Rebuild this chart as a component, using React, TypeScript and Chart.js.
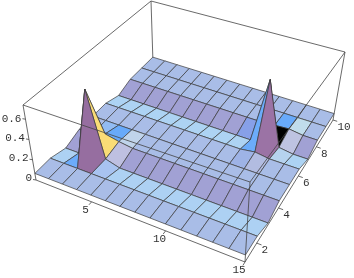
import React, { useEffect, useRef } from "react";
import { Chart, registerables } from "chart.js";

Chart.register(...registerables);

const xValues = [1, 2, 3, 4, 5, 6, 7, 8, 9, 10, 11, 12, 13, 14, 15];
const yValues = [1, 2, 3, 4, 5, 6, 7, 8, 9, 10];
// heights[rowIndex of y][column index of x]
const y1 = [.065, .065, .065, .065, .065, .065, .065, .065, .065, .065, .065, .065, .065, .065, .065];
const y2 = [.065, .065, .065, .065, .065, .065, .065, .065, .065, .065, .065, .065, .065, .065, .065];
const y3 = [.02, .02, .72, .06, .02, .02, .02, .02, .02, .02, .02, .02, .02, .02, .02];
const y4 = [.07, .07, .12, .09, .07, .07, .07, .07, .07, .07, .07, .07, .07, .07, .07];
const y5 = [.07, .07, .07, .07, .07, .07, .07, .07, .07, .07, .07, .07, .07, .07, .07];
const y6 = [.07, .07, .07, .07, .07, .07, .07, .07, .07, .07, .07, .09, .07, .07, .07];
const y7 = [.02, .02, .02, .02, .02, .02, .02, .02, .02, .02, .02, .7, .04, .02, .02];
const y8 = [.07, .07, .07, .07, .07, .07, .07, .07, .07, .07, .07, .08, .09, .07, .07];
const y9 = [.07, .07, .07, .07, .07, .07, .07, .07, .07, .07, .07, .07, .07, .07, .07];
const y10 = [.07, .07, .07, .07, .07, .07, .07, .07, .07, .07, .07, .07, .07, .07, .07];
const heights = [y1, y2, y3, y4, y5, y6, y7, y8, y9, y10];
const xTicks = [5, 10, 15];
const yTicks = [2, 4, 6, 8, 10];
const zTicks = [0, 0.2, 0.4, 0.6];
const zTickLabels = ["0", "0.2", "0.4", "0.6"];
const zMax = 0.74;

// Facets around the two spikes keep the colours seen in the picture ("column,row" of the facet).
const facetColours: Record<string, string> = {
  "1,1": "rgb(108,172,250)",
  "1,2": "rgb(108,148,236)",
  "2,1": "rgb(150,110,160)",
  "2,2": "rgb(250,220,118)",
  "3,1": "rgb(168,195,240)",
  "3,2": "rgb(190,192,225)",
  "3,3": "rgb(192,212,235)",
  "2,3": "rgb(104,170,250)",
  "9,6": "rgb(135,160,232)",
  "10,5": "rgb(108,172,250)",
  "10,6": "rgb(108,160,244)",
  "11,5": "rgb(155,115,165)",
  "11,6": "rgb(0,0,0)",
  "12,6": "rgb(190,195,225)",
  "12,7": "rgb(192,220,235)",
  "11,7": "rgb(104,170,250)",
};

type P = [number, number];
const bottomCorners: P[] = [[36, 180], [245, 262], [333, 120], [153, 63]];
const topCorners: P[] = [[23, 105], [250, 182], [345, 52], [151, 1]];

function homography(c: P[]) {
  const [[x0, y0], [x1, y1], [x2, y2], [x3, y3]] = c;
  const dx1 = x1 - x2, dx2 = x3 - x2, sx = x0 - x1 + x2 - x3;
  const dy1 = y1 - y2, dy2 = y3 - y2, sy = y0 - y1 + y2 - y3;
  const den = dx1 * dy2 - dx2 * dy1;
  const g = (sx * dy2 - dx2 * sy) / den;
  const h = (dx1 * sy - sx * dy1) / den;
  const a = x1 - x0 + g * x1, b = x3 - x0 + h * x3;
  const d = y1 - y0 + g * y1, e = y3 - y0 + h * y3;
  return (u: number, v: number): P => {
    const w = g * u + h * v + 1;
    return [(a * u + b * v + x0) / w, (d * u + e * v + y0) / w];
  };
}
const hBottom = homography(bottomCorners);
const hTop = homography(topCorners);
const U = (x: number) => (x - 1) / 14;
const V = (y: number) => (y - 1) / 9;
function proj(x: number, y: number, z: number) {
  const b = hBottom(U(x), V(y));
  const t = hTop(U(x), V(y));
  const k = z / zMax;
  return { x: b[0] + (t[0] - b[0]) * k, y: b[1] + (t[1] - b[1]) * k };
}

const az = (30 * Math.PI) / 180;
const el = (70 * Math.PI) / 180;
const xv = [Math.cos(az), Math.sin(az), 0];
const yv = [-Math.sin(az) * Math.sin(el), Math.cos(az) * Math.sin(el), Math.cos(el)];
const zv = [Math.sin(az) * Math.cos(el), -Math.cos(az) * Math.cos(el), Math.sin(el)];
const dot = (a: number[], b: number[]) => a[0] * b[0] + a[1] * b[1] + a[2] * b[2];

function shade(i: number, j: number) {
  const key = `${i},${j}`;
  if (facetColours[key]) return facetColours[key];
  const W = (z: number) => (z / zMax) * 0.28;
  const p = (a: number, b: number) => [U(xValues[a]), V(yValues[b]), W(heights[b][a])];
  const A = p(i, j), B = p(i + 1, j), C = p(i + 1, j + 1), D = p(i, j + 1);
  const d1 = [C[0] - A[0], C[1] - A[1], C[2] - A[2]];
  const d2 = [D[0] - B[0], D[1] - B[1], D[2] - B[2]];
  let n = [d1[1] * d2[2] - d1[2] * d2[1], d1[2] * d2[0] - d1[0] * d2[2], d1[0] * d2[1] - d1[1] * d2[0]];
  const len = Math.hypot(n[0], n[1], n[2]);
  n = n.map((c) => c / len);
  const nv = [dot(n, xv), dot(n, yv), dot(n, zv)];
  const r = Math.max(0, (nv[0] + nv[2]) / Math.SQRT2);
  const g = Math.max(0, (nv[0] + nv[1] + nv[2]) / Math.sqrt(3));
  const bl = Math.max(0, (nv[1] + nv[2]) / Math.SQRT2);
  const c8 = (c: number) => Math.round(Math.min(1, c) * 255);
  return `rgb(${c8(r)},${c8(g)},${c8(bl)})`;
}

function lineDs(pts: { x: number; y: number }[], color = "#444", width = 0.8) {
  return { data: pts, borderColor: color, borderWidth: width, pointRadius: 0, fill: false, tension: 0, clip: false };
}

function buildDatasets() {
  const ds: any[] = [];
  const c = (x: number, y: number, z: number) => proj(x, y, z);
  ds.push(lineDs([c(1, 10, 0), c(1, 10, zMax)]));
  ds.push(lineDs([c(1, 1, zMax), c(1, 10, zMax), c(15, 10, zMax)]));
  ds.push(lineDs([c(15, 10, 0), c(15, 10, zMax)]));
  for (let j = yValues.length - 2; j >= 0; j--) {
    for (let i = 0; i < xValues.length - 1; i++) {
      const pt = (a: number, b: number) => proj(xValues[a], yValues[b], heights[b][a]);
      const p0 = pt(i, j);
      ds.push({
        data: [p0, pt(i + 1, j), pt(i + 1, j + 1), pt(i, j + 1), p0],
        borderColor: "#3a3a3a",
        borderWidth: 0.7,
        backgroundColor: shade(i, j),
        fill: "shape",
        pointRadius: 0,
        tension: 0,
        clip: false,
      });
    }
  }
  ds.push(lineDs([c(1, 1, 0), c(1, 1, zMax), c(15, 1, zMax), c(15, 10, zMax)]));
  ds.push(lineDs([c(15, 1, 0), c(15, 1, zMax)]));
  ds.push(lineDs([c(1, 1, 0), c(15, 1, 0), c(15, 10, 0)]));
  for (const t of xTicks) {
    const a = proj(t, 1, 0), b = proj(t, 1.18, 0);
    ds.push(lineDs([a, { x: 2 * a.x - b.x, y: 2 * a.y - b.y }]));
  }
  for (const t of yTicks) {
    const a = proj(15, t, 0), b = proj(14.7, t, 0);
    ds.push(lineDs([a, { x: 2 * a.x - b.x, y: 2 * a.y - b.y }]));
  }
  for (const t of zTicks) {
    const a = proj(1, 1, t);
    ds.push(lineDs([a, { x: a.x - 3, y: a.y - 0.5 }]));
  }
  return ds.reverse();
}

const labelsPlugin = {
  id: "tickLabels",
  afterDraw(chart: any) {
    const ctx = chart.ctx;
    ctx.save();
    ctx.font = '11px "Liberation Mono"';
    ctx.fillStyle = "#333";
    ctx.textAlign = "center";
    ctx.textBaseline = "middle";
    for (const t of xTicks) {
      const p = proj(t, 1, 0);
      ctx.fillText(String(t), p.x - 6, p.y + 8);
    }
    for (const t of yTicks) {
      const p = proj(15, t, 0);
      ctx.fillText(String(t), p.x + (t === 10 ? 11 : 8), p.y + 7);
    }
    zTicks.forEach((t, k) => {
      const p = proj(1, 1, t);
      ctx.textAlign = "right";
      ctx.fillText(zTickLabels[k], p.x - 4, p.y - 2 + k * 0.5);
    });
    ctx.restore();
  },
};

export default function App() {
  const ref = useRef<HTMLCanvasElement>(null);
  useEffect(() => {
    document.body.style.margin = "0";
    document.body.style.background = "#fff";
    const chart = new Chart(ref.current!, {
      type: "scatter",
      data: { datasets: buildDatasets() },
      options: {
        animation: false,
        responsive: false,
        showLine: true,
        layout: { padding: 0 },
        plugins: { legend: { display: false }, tooltip: { enabled: false }, title: { display: false } },
        scales: {
          x: { type: "linear", min: 0, max: 354, display: false },
          y: { type: "linear", min: 0, max: 278, reverse: true, display: false },
        },
      } as any,
      plugins: [labelsPlugin],
    });
    return () => chart.destroy();
  }, []);
  return (
    <div style={{ width: 354, height: 278 }}>
      <canvas ref={ref} width={354} height={278} style={{ display: "block" }} />
    </div>
  );
}
